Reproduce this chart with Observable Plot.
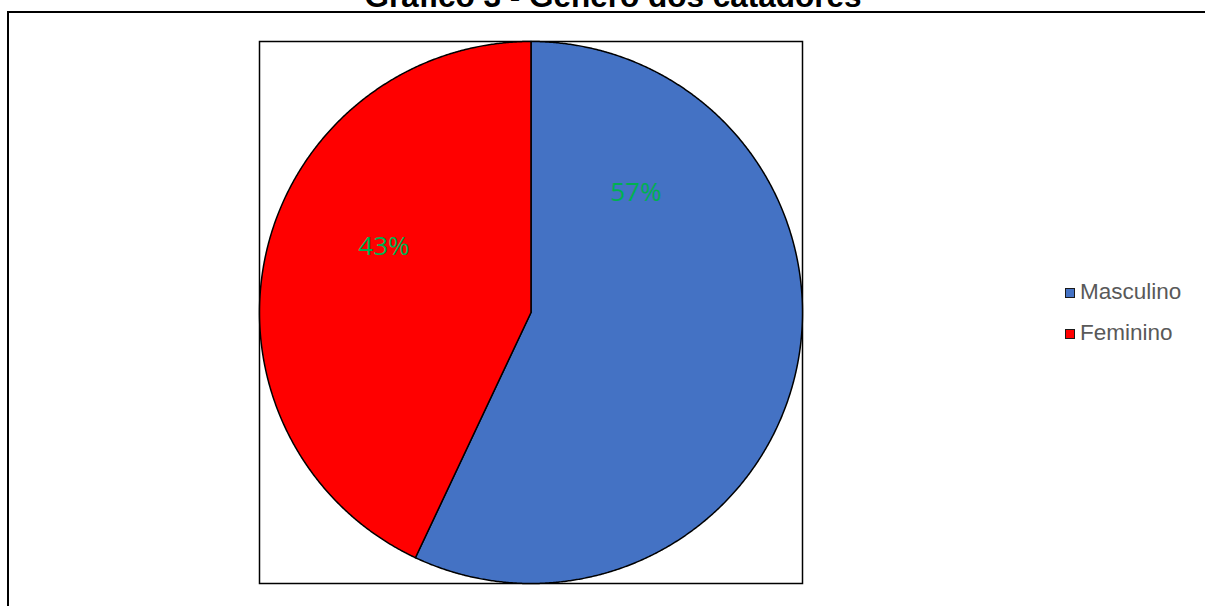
<!DOCTYPE html>
<html><head><meta charset="utf-8">
<script src="https://cdn.jsdelivr.net/npm/d3@7"></script>
<script src="https://cdn.jsdelivr.net/npm/@observablehq/plot@0.6"></script>
<style>
html,body{margin:0;padding:0;background:#fff;overflow:hidden}
#wrap{position:relative;width:1205px;height:606px;overflow:hidden;background:#fff}
#title{position:absolute;left:0;top:-19px;width:1205px;padding-left:21px;box-sizing:border-box;text-align:center;font:bold 31.5px "Liberation Sans",Arial,sans-serif;line-height:31px;color:#000;white-space:nowrap}
#outer{position:absolute;left:7px;top:11px;width:1400px;height:800px;border-left:2px solid #000;border-top:2px solid #000}
#chart{position:absolute;left:0;top:0}
#legend{position:absolute;left:1065px;top:280px;font:22.5px "Liberation Sans",Arial,sans-serif;color:#595959}
.item{display:flex;align-items:center;height:24px;margin-bottom:17px}
.sw{width:8px;height:8px;border:1.5px solid #1a1a1a;margin-right:5px;margin-top:2px}
</style>
</head><body>
<div id="wrap">
  <div id="outer"></div>
  <div id="title"></div>
  <div id="chart"></div>
  <div id="legend"></div>
</div>
<script>
const titleText = "Gráfico 3 - Gênero dos catadores";
const categories = ["Masculino", "Feminino"];
const values = [57, 43];
const colors = ["#4472C4", "#FF0000"];
const labelColor = "#00B050";
// label placement (angle clockwise from top in degrees, radius fraction) — layout only
const labelAngles = [41.2, 294.2];
const labelRadii = [0.586, 0.594];

document.getElementById("title").textContent = titleText;

const pie = d3.pie().sort(null).startAngle(0).endAngle(2 * Math.PI)(values);
const slicePts = [];
pie.forEach((p, i) => {
  const name = categories[i];
  slicePts.push({name, x: 0, y: 0});
  const n = Math.max(8, Math.ceil((p.endAngle - p.startAngle) / 0.005));
  for (let k = 0; k <= n; k++) {
    const a = p.startAngle + (p.endAngle - p.startAngle) * k / n;
    slicePts.push({name, x: Math.sin(a), y: Math.cos(a)});
  }
  slicePts.push({name, x: 0, y: 0});
});
const labels = categories.map((c, i) => {
  const a = labelAngles[i] * Math.PI / 180;
  return {name: c, text: Math.round(values[i] / d3.sum(values) * 100) + "%", x: labelRadii[i] * Math.sin(a), y: labelRadii[i] * Math.cos(a)};
});

const chart = Plot.plot({
  width: 1205, height: 606,
  marginLeft: 259, marginRight: 403, marginTop: 41, marginBottom: 23,
  x: {domain: [-1, 1], axis: null},
  y: {domain: [-1, 1], axis: null},
  color: {domain: categories, range: colors},
  style: {background: "transparent"},
  marks: [
    Plot.frame({stroke: "#000", strokeWidth: 1.5}),
    Plot.line(slicePts, {x: "x", y: "y", z: "name", fill: "name", stroke: "#000", strokeWidth: 1.5, curve: "linear"}),
    Plot.text(labels, {x: "x", y: "y", text: "text", fill: labelColor, fontSize: 26, fontFamily: "Open Sans, sans-serif"})
  ]
});
document.getElementById("chart").appendChild(chart);

const leg = d3.select("#legend");
categories.forEach((c, i) => {
  const it = leg.append("div").attr("class", "item");
  it.append("div").attr("class", "sw").style("background", colors[i]);
  it.append("span").text(c);
});
</script>
</body></html>
